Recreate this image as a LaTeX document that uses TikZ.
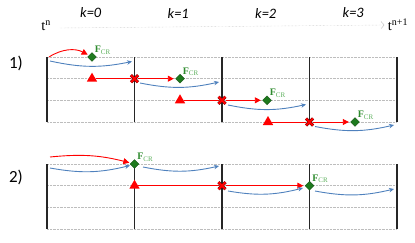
\documentclass[tikz,border=0pt]{standalone}
\usepackage{fontspec}
\setmainfont{Carlito}
\newfontfamily\serif{Liberation Serif}
\usepackage{tikz}
\usetikzlibrary{arrows.meta}
\usetikzlibrary{shapes.geometric,shapes.misc}

\definecolor{crgreen}{HTML}{1E7A1E}
\definecolor{lblgreen}{HTML}{2E8B2E}
\definecolor{subgreen}{HTML}{5BAF5B}
\definecolor{flowblue}{HTML}{4F81BD}
\definecolor{gridgray}{HTML}{BDBDBD}

\newcommand{\sweepgrid}[1]{\foreach \r in {0,...,3} {
        \draw[gridgray, densely dotted] (47, #1-\r*21.67) -- (397, #1-\r*21.67);
    }
    \foreach \c in {0,...,4} {
        \draw[black!85, line width=1.2pt] (47+\c*87.5, #1) -- (47+\c*87.5, #1-65);
    }
}
\newcommand{\redarrow}{\draw[red, line width=0.9pt, -{Triangle[length=6pt,width=6pt]}, shorten >=1.5pt]}
\newcommand{\bluearrow}{\draw[flowblue, line width=0.9pt, -{Stealth[length=5pt,width=4.5pt]}]}
\newcommand{\fcr}{{\serif\textbf{F}\textsubscript{\color{subgreen}CR}}}

\tikzset{
    tri/.style={regular polygon, regular polygon sides=3, fill=red, inner sep=0pt, minimum size=12pt},
    xmark/.style={cross out, draw=red!40!black, double=red, double distance=2pt, line width=0.5pt, inner sep=0pt, minimum size=6.5pt},
    cr/.style={diamond, fill=crgreen, draw=crgreen!70!black, inner sep=0pt, minimum size=9pt},
    crlabel/.style={above right, text=lblgreen, inner sep=0.3pt, font=\normalsize}
}

\begin{document}
\begin{tikzpicture}[x=1pt, y=1pt]
    \useasboundingbox (0,0) rectangle (415,242);

    % Draw time axis
    \node (tn) at (46,216) {\Large\serif t\textsuperscript{n}};
    \node (tn1) at (398,217) {\Large\serif t\textsuperscript{n+1}};
    \draw[gridgray, densely dotted, -{Straight Barb[length=3pt,width=7pt]}] (60,214) -- (tn1.west);
    \foreach \k in {0,...,3} {
        \node (k\k) at (90.75+\k*87.5, 229) {\Large\textit{k=\k}};
    }
    \node (sweep1) at (16,179) {\fontsize{17}{19}\selectfont 1)};
    \node (sweep2) at (16,65) {\fontsize{17}{19}\selectfont 2)};

    % Draw grids
    \sweepgrid{185}
    \sweepgrid{78}

    % Sweep 1
    \node[cr] (d10) at (92,185) {};
    \node[tri] (t11) at (92,163.3) {};
    \node[xmark] (x11) at (134.5,163.3) {};
    \node[cr] (d11) at (180,163.3) {};
    \node[tri] (t12) at (180,141.7) {};
    \node[xmark] (x12) at (222,141.7) {};
    \node[cr] (d12) at (267,141.7) {};
    \node[tri] (t13) at (268,120) {};
    \node[xmark] (x13) at (309.5,120) {};
    \node[cr] (d13) at (355,120) {};
    \foreach \i in {0,...,3} {
        \node[crlabel] at (d1\i.north east) {\fcr};
    }

    \coordinate (s10) at (49,185);
    \redarrow (s10) to[bend left=30] (d10);
    \foreach \i in {1,2,3} {
        \draw[red, line width=0.9pt] (t1\i) -- (x1\i);
        \redarrow (x1\i) -- (d1\i);
    }

    \coordinate (a10) at (50,181);   \coordinate (b10) at (132,180.5);
    \coordinate (a11) at (140,159);  \coordinate (b11) at (219,160);
    \coordinate (a12) at (228,137);  \coordinate (b12) at (306,137.5);
    \coordinate (a13) at (315,115.5); \coordinate (b13) at (394,117);
    \foreach \i in {0,...,3} {
        \bluearrow (a1\i) to[bend right=12] (b1\i);
    }

    % Sweep 2
    \node[cr] (d20) at (134.5,78) {};
    \node[tri] (t21) at (134.5,56.3) {};
    \node[xmark] (x21) at (222,56.3) {};
    \node[cr] (d21) at (309.5,56.3) {};
    \node[crlabel] at (d20.north east) {\fcr};
    \node[crlabel] at (d21.north east) {\fcr};

    \coordinate (s20) at (50,85);
    \redarrow (s20) to[bend left=10] (d20);
    \draw[red, line width=0.9pt] (t21) -- (x21);
    \redarrow (x21) -- (d21);

    \coordinate (a20) at (50,74);    \coordinate (b20) at (130,76.5);
    \coordinate (a21) at (143,75);   \coordinate (b21) at (219,76);
    \coordinate (a22) at (228,51);   \coordinate (b22) at (303,54);
    \coordinate (a23) at (315,51);   \coordinate (b23) at (394,53);
    \foreach \i in {0,...,3} {
        \bluearrow (a2\i) to[bend right=12] (b2\i);
    }
\end{tikzpicture}
\end{document}
